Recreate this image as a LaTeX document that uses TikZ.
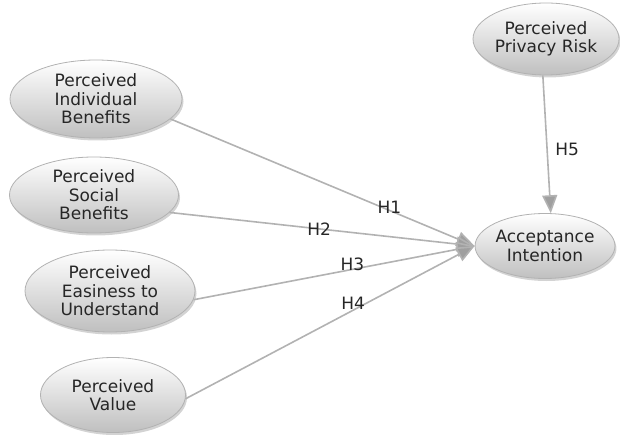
\documentclass[tikz,border=0pt]{standalone}
\usepackage{fontspec}
\setmainfont{DejaVu Sans}
\usepackage{tikz}
\usetikzlibrary{shapes.geometric, arrows.meta, shadows, positioning}

\begin{document}
\begin{tikzpicture}[x=1pt,y=-1pt,
                    construct node/.style={ellipse,draw=gray!60,line width=0.8pt,top color=white,bottom color=gray!50,
                      drop shadow={shadow xshift=1.5pt,shadow yshift=-2.5pt,opacity=0.35,fill=gray},
                      inner sep=0pt,align=center,text=black!85,font=\fontsize{17}{18.5}\selectfont},
                    hyp line/.style={draw=gray!60,line width=1.6pt,-{Triangle[length=18pt,width=15pt,fill=gray!75]}},
                    hyp label/.style={inner sep=0pt,text=black!85,font=\fontsize{17}{18.5}\selectfont}]
 \useasboundingbox (0,0) rectangle (620,435);

%Constructs on the left
 \node[construct node,minimum width=172pt,minimum height=78pt] (Individual) at (96,99) {Perceived\\Individual\\Benefits};
 \node[construct node,minimum width=169pt,minimum height=76pt] (Social) at (94,195) {Perceived\\Social\\Benefits};
 \node[construct node,minimum width=170pt,minimum height=82pt] (Easiness) at (110,291) {Perceived\\Easiness to\\Understand};
 \node[construct node,minimum width=145pt,minimum height=75pt] (Value) at (113,395) {Perceived\\Value};

%Constructs on the right
 \node[construct node,minimum width=146pt,minimum height=72pt] (Privacy) at (546,39) {Perceived\\Privacy Risk};
 \node[construct node,minimum width=130pt,minimum height=65pt] (Acceptance) at (545,246) {Acceptance\\Intention};

%Hypotheses
 \foreach \src/\ang/\lab/\p/\ys in {Individual/-15/H1/0.72/3,Social/-13/H2/0.49/0,Easiness/-6/H3/0.565/5.5,Value/-3/H4/0.58/7}
   \draw[hyp line] (\src.\ang) -- (Acceptance.west)
     node[hyp label,pos=\p,yshift=\ys pt] (Label\lab) {\lab};

 \draw[hyp line] (Privacy.265) -- (Acceptance.80)
   node[hyp label,pos=0.54,xshift=20pt] (LabelH5) {H5};

\end{tikzpicture}
\end{document}
